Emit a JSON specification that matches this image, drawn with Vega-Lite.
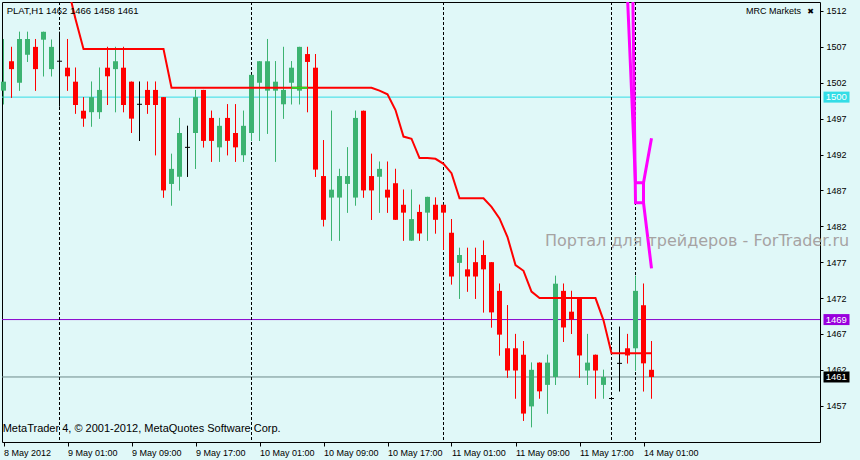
{
"$schema": "https://vega.github.io/schema/vega-lite/v6.json",
"width": 818, "height": 440,
"autosize": {"type": "none"},
"padding": {"left": 2, "top": 2, "right": 40, "bottom": 18},
"background": "#E0F8F8",
"config": {"view": {"stroke": "#000000", "strokeWidth": 1, "fill": "#E0F8F8"}, "font": "Liberation Sans", "axis": {"labelOverlap": false, "labelFlush": false}},
"datasets": {
"candles": [
{"k":0,"o":1500.9,"h":1508.1,"l":1499.0,"c":1502.15,"d":"up"},
{"k":1,"o":1505.0,"h":1507.0,"l":1499.9,"c":1503.9,"d":"down"},
{"k":2,"o":1502.0,"h":1509.1,"l":1500.9,"c":1508.1,"d":"up"},
{"k":3,"o":1505.9,"h":1509.1,"l":1504.9,"c":1508.1,"d":"up"},
{"k":4,"o":1507.0,"h":1508.1,"l":1500.9,"c":1503.9,"d":"down"},
{"k":5,"o":1508.0,"h":1509.1,"l":1502.9,"c":1509.1,"d":"up"},
{"k":6,"o":1503.9,"h":1508.0,"l":1502.9,"c":1507.0,"d":"up"},
{"k":7,"o":1505.0,"h":1509.1,"l":1498.7,"c":1505.0,"d":"doji"},
{"k":8,"o":1504.1,"h":1508.1,"l":1500.9,"c":1502.9,"d":"down"},
{"k":9,"o":1502.15,"h":1504.1,"l":1497.7,"c":1498.9,"d":"down"},
{"k":10,"o":1498.1,"h":1500.0,"l":1495.9,"c":1497.0,"d":"down"},
{"k":11,"o":1497.9,"h":1502.15,"l":1495.9,"c":1500.0,"d":"up"},
{"k":12,"o":1497.9,"h":1504.1,"l":1497.0,"c":1501.0,"d":"up"},
{"k":13,"o":1504.1,"h":1507.0,"l":1498.9,"c":1502.9,"d":"down"},
{"k":14,"o":1503.9,"h":1507.0,"l":1497.9,"c":1505.0,"d":"up"},
{"k":15,"o":1504.1,"h":1507.0,"l":1497.9,"c":1498.9,"d":"down"},
{"k":16,"o":1502.15,"h":1502.15,"l":1495.0,"c":1497.0,"d":"down"},
{"k":17,"o":1499.0,"h":1502.15,"l":1493.9,"c":1499.0,"d":"doji"},
{"k":18,"o":1501.0,"h":1502.15,"l":1497.7,"c":1498.9,"d":"down"},
{"k":19,"o":1501.0,"h":1502.15,"l":1491.9,"c":1498.9,"d":"down"},
{"k":20,"o":1500.0,"h":1500.0,"l":1486.0,"c":1487.0,"d":"down"},
{"k":21,"o":1487.9,"h":1492.1,"l":1484.9,"c":1490.0,"d":"up"},
{"k":22,"o":1488.9,"h":1497.1,"l":1487.0,"c":1495.0,"d":"up"},
{"k":23,"o":1493.0,"h":1496.0,"l":1488.9,"c":1493.0,"d":"doji"},
{"k":24,"o":1495.0,"h":1501.0,"l":1490.0,"c":1500.0,"d":"up"},
{"k":25,"o":1501.0,"h":1501.0,"l":1493.0,"c":1493.9,"d":"down"},
{"k":26,"o":1497.1,"h":1498.1,"l":1491.0,"c":1493.9,"d":"down"},
{"k":27,"o":1493.0,"h":1497.1,"l":1491.0,"c":1496.0,"d":"up"},
{"k":28,"o":1497.1,"h":1499.0,"l":1491.9,"c":1493.9,"d":"down"},
{"k":29,"o":1495.0,"h":1499.0,"l":1491.0,"c":1493.0,"d":"down"},
{"k":30,"o":1491.9,"h":1498.1,"l":1491.0,"c":1496.0,"d":"up"},
{"k":31,"o":1495.0,"h":1503.1,"l":1493.9,"c":1503.1,"d":"up"},
{"k":32,"o":1502.0,"h":1505.0,"l":1493.9,"c":1505.0,"d":"up"},
{"k":33,"o":1500.9,"h":1508.1,"l":1494.9,"c":1505.0,"d":"up"},
{"k":34,"o":1500.9,"h":1505.0,"l":1491.0,"c":1502.15,"d":"up"},
{"k":35,"o":1499.0,"h":1507.0,"l":1497.0,"c":1501.0,"d":"up"},
{"k":36,"o":1502.0,"h":1505.0,"l":1499.0,"c":1504.1,"d":"up"},
{"k":37,"o":1500.9,"h":1507.0,"l":1499.0,"c":1507.0,"d":"up"},
{"k":38,"o":1506.0,"h":1507.0,"l":1497.9,"c":1504.9,"d":"down"},
{"k":39,"o":1504.1,"h":1506.0,"l":1488.9,"c":1489.9,"d":"down"},
{"k":40,"o":1489.0,"h":1494.0,"l":1482.0,"c":1482.9,"d":"down"},
{"k":41,"o":1486.0,"h":1498.1,"l":1480.0,"c":1487.1,"d":"up"},
{"k":42,"o":1486.0,"h":1490.0,"l":1480.0,"c":1489.0,"d":"up"},
{"k":43,"o":1487.9,"h":1493.0,"l":1483.9,"c":1489.0,"d":"up"},
{"k":44,"o":1486.0,"h":1498.1,"l":1484.9,"c":1497.1,"d":"up"},
{"k":45,"o":1498.1,"h":1498.1,"l":1486.0,"c":1487.0,"d":"down"},
{"k":46,"o":1489.0,"h":1492.1,"l":1482.9,"c":1487.0,"d":"down"},
{"k":47,"o":1488.9,"h":1491.0,"l":1483.9,"c":1490.0,"d":"up"},
{"k":48,"o":1487.1,"h":1491.0,"l":1483.9,"c":1486.0,"d":"down"},
{"k":49,"o":1488.0,"h":1490.0,"l":1482.9,"c":1482.9,"d":"down"},
{"k":50,"o":1485.0,"h":1487.1,"l":1480.0,"c":1483.9,"d":"down"},
{"k":51,"o":1480.0,"h":1487.1,"l":1480.0,"c":1483.0,"d":"up"},
{"k":52,"o":1484.0,"h":1485.0,"l":1480.0,"c":1481.0,"d":"down"},
{"k":53,"o":1483.9,"h":1486.1,"l":1480.0,"c":1486.1,"d":"up"},
{"k":54,"o":1485.0,"h":1486.0,"l":1481.0,"c":1482.9,"d":"down"},
{"k":55,"o":1485.0,"h":1485.0,"l":1478.7,"c":1483.9,"d":"down"},
{"k":56,"o":1481.1,"h":1483.0,"l":1473.9,"c":1475.0,"d":"down"},
{"k":57,"o":1476.9,"h":1479.0,"l":1471.9,"c":1478.0,"d":"up"},
{"k":58,"o":1476.0,"h":1479.0,"l":1472.9,"c":1475.0,"d":"down"},
{"k":59,"o":1477.0,"h":1479.0,"l":1471.9,"c":1475.0,"d":"down"},
{"k":60,"o":1478.0,"h":1480.0,"l":1470.0,"c":1476.0,"d":"down"},
{"k":61,"o":1477.0,"h":1477.0,"l":1467.9,"c":1470.0,"d":"down"},
{"k":62,"o":1473.0,"h":1474.0,"l":1464.0,"c":1466.9,"d":"down"},
{"k":63,"o":1465.0,"h":1471.0,"l":1460.9,"c":1461.9,"d":"down"},
{"k":64,"o":1465.0,"h":1467.0,"l":1458.0,"c":1461.9,"d":"down"},
{"k":65,"o":1464.1,"h":1466.0,"l":1454.9,"c":1455.9,"d":"down"},
{"k":66,"o":1456.9,"h":1463.0,"l":1454.0,"c":1462.0,"d":"up"},
{"k":67,"o":1463.0,"h":1463.0,"l":1458.0,"c":1459.0,"d":"down"},
{"k":68,"o":1459.9,"h":1464.1,"l":1455.9,"c":1463.0,"d":"up"},
{"k":69,"o":1461.0,"h":1475.1,"l":1459.9,"c":1474.0,"d":"up"},
{"k":70,"o":1473.0,"h":1474.0,"l":1465.9,"c":1467.9,"d":"down"},
{"k":71,"o":1470.1,"h":1473.0,"l":1467.0,"c":1469.0,"d":"down"},
{"k":72,"o":1472.0,"h":1472.0,"l":1460.9,"c":1464.0,"d":"down"},
{"k":73,"o":1461.9,"h":1467.0,"l":1459.9,"c":1463.0,"d":"up"},
{"k":74,"o":1464.1,"h":1464.1,"l":1458.0,"c":1461.9,"d":"down"},
{"k":75,"o":1459.9,"h":1462.0,"l":1458.0,"c":1461.0,"d":"up"},
{"k":76,"o":1458.0,"h":1458.2,"l":1457.8,"c":1458.0,"d":"doji"},
{"k":77,"o":1462.9,"h":1468.0,"l":1459.0,"c":1462.9,"d":"doji"},
{"k":78,"o":1465.0,"h":1467.0,"l":1462.9,"c":1464.0,"d":"down"},
{"k":79,"o":1465.0,"h":1475.1,"l":1461.9,"c":1473.0,"d":"up"},
{"k":80,"o":1471.0,"h":1474.0,"l":1459.0,"c":1462.9,"d":"down"},
{"k":81,"o":1462.0,"h":1466.0,"l":1458.0,"c":1461.0,"d":"down"}
],
"ind": [
{"k":8,"v":1515.5},{"k":9,"v":1510.9},{"k":10,"v":1506.7},{"k":11,"v":1506.7},{"k":12,"v":1506.7},{"k":13,"v":1506.7},{"k":14,"v":1506.7},{"k":15,"v":1506.7},{"k":16,"v":1506.7},{"k":17,"v":1506.7},{"k":18,"v":1506.7},{"k":19,"v":1506.7},{"k":20,"v":1506.7},
{"k":21,"v":1501.3},{"k":22,"v":1501.3},{"k":23,"v":1501.3},{"k":24,"v":1501.3},{"k":25,"v":1501.3},{"k":26,"v":1501.3},{"k":27,"v":1501.3},{"k":28,"v":1501.3},{"k":29,"v":1501.3},{"k":30,"v":1501.3},{"k":31,"v":1501.3},{"k":32,"v":1501.3},{"k":33,"v":1501.3},{"k":34,"v":1501.3},{"k":35,"v":1501.3},{"k":36,"v":1501.3},{"k":37,"v":1501.3},{"k":38,"v":1501.3},{"k":39,"v":1501.3},{"k":40,"v":1501.3},{"k":41,"v":1501.3},{"k":42,"v":1501.3},{"k":43,"v":1501.3},{"k":44,"v":1501.3},{"k":45,"v":1501.3},{"k":46,"v":1501.3},
{"k":47,"v":1500.9},{"k":48,"v":1500.4},{"k":49,"v":1498.2},{"k":50,"v":1494.5},{"k":51,"v":1494.2},{"k":52,"v":1491.5},{"k":53,"v":1491.5},{"k":54,"v":1491.4},{"k":55,"v":1490.7},{"k":56,"v":1489.4},{"k":57,"v":1485.9},{"k":58,"v":1485.9},{"k":59,"v":1485.9},{"k":60,"v":1485.9},{"k":61,"v":1484.7},{"k":62,"v":1483.1},{"k":63,"v":1480.5},{"k":64,"v":1476.6},{"k":65,"v":1475.8},{"k":66,"v":1472.9},{"k":67,"v":1472.0},{"k":68,"v":1472.0},{"k":69,"v":1472.0},{"k":70,"v":1472.0},{"k":71,"v":1472.0},{"k":72,"v":1472.0},{"k":73,"v":1472.0},{"k":74,"v":1472.0},{"k":75,"v":1468.9},{"k":76,"v":1464.3},{"k":77,"v":1464.3},{"k":78,"v":1464.3},{"k":79,"v":1464.3},{"k":80,"v":1464.3},{"k":81,"v":1464.3}
],
"mag": [
{"s":"A","o":1,"k":78,"v":1513.95},{"s":"A","o":2,"k":79,"v":1488.07},{"s":"A","o":3,"k":80,"v":1488.07},{"s":"A","o":4,"k":81,"v":1494.26},
{"s":"B","o":1,"k":78,"v":1572.0},{"s":"B","o":2,"k":79,"v":1485.28},{"s":"B","o":3,"k":80,"v":1485.28},{"s":"B","o":4,"k":81,"v":1476.14},
{"s":"C","o":1,"k":80,"v":1488.07},{"s":"C","o":2,"k":80,"v":1485.28}
],
"seps": [{"k":7},{"k":31},{"k":55},{"k":76},{"k":79}],
"levels": [
{"p":1500,"line":"res","box":"res","lab":"1500"},
{"p":1469,"line":"alert","box":"alertbox","lab":"1469"},
{"p":1461,"line":"bid","box":"bidbox","lab":"1461"}
]
},
"layer": [
{
"data": {"name": "candles"},
"mark": {"type": "rule", "strokeWidth": 1},
"encoding": {
"x": {"field": "k", "type": "quantitative", "title": null, "scale": {"type": "linear", "domain": [-0.1875, 102.0625], "nice": false, "zero": false, "padding": 0},
  "axis": {"values": [0,8,16,24,32,40,48,56,64,72,80], "tickCount": 30, "labelExpr": "['8 May 2012','9 May 01:00','9 May 09:00','9 May 17:00','10 May 01:00','10 May 09:00','10 May 17:00','11 May 01:00','11 May 09:00','11 May 17:00','14 May 01:00'][round(datum.value/8)]", "title": null, "grid": false, "domain": false, "ticks": true, "tickSize": 4, "tickColor": "#000000", "labelAlign": "left", "labelBaseline": "top", "labelPadding": 2, "labelFontSize": 9, "labelColor": "#000000", "labelFont": "Liberation Sans", "labelFlush": false, "labelOverlap": false, "labelDx": 1}},
"y": {"field": "l", "type": "quantitative", "title": null, "scale": {"type": "linear", "domain": [1451.94, 1513.254], "nice": false, "zero": false, "padding": 0},
  "axis": {"orient": "right", "values": [1457,1462,1467,1472,1477,1482,1487,1492,1497,1502,1507,1512], "tickCount": 30, "format": "d", "title": null, "grid": false, "domain": false, "ticks": true, "tickSize": 3, "tickColor": "#000000", "labelPadding": 3, "labelFontSize": 9, "labelColor": "#000000", "labelFont": "Liberation Sans", "labelAlign": "left", "labelBaseline": "middle", "labelFlush": false, "labelOverlap": false}},
"y2": {"field": "h"},
"color": {"field": "d", "type": "nominal", "scale": {"domain": ["up","down","doji","res","alert","alertbox","bid","bidbox"], "range": ["#3CB371","#FF0000","#000000","#33DDE6","#8800CC","#9900DD","#6E8A8A","#000000"]}, "legend": null}
}
},
{
"data": {"name": "levels"},
"mark": {"type": "rule", "strokeWidth": 1},
"encoding": {
"y": {"field": "p", "type": "quantitative", "title": null, "scale": {"type": "linear", "domain": [1451.94, 1513.254], "nice": false, "zero": false, "padding": 0}},
"color": {"field": "line", "type": "nominal", "scale": {"domain": ["up","down","doji","res","alert","alertbox","bid","bidbox"], "range": ["#3CB371","#FF0000","#000000","#33DDE6","#8800CC","#9900DD","#6E8A8A","#000000"]}, "legend": null}
}
},
{
"data": {"name": "seps"},
"mark": {"type": "rule", "strokeWidth": 1, "strokeDash": [3, 2], "color": "#000000"},
"encoding": {
"x": {"field": "k", "type": "quantitative", "title": null, "scale": {"type": "linear", "domain": [-0.1875, 102.0625], "nice": false, "zero": false, "padding": 0}}
}
},
{
"data": {"name": "candles"},
"mark": {"type": "rule", "strokeWidth": 1},
"encoding": {
"x": {"field": "k", "type": "quantitative", "title": null, "scale": {"type": "linear", "domain": [-0.1875, 102.0625], "nice": false, "zero": false, "padding": 0}},
"y": {"field": "l", "type": "quantitative", "title": null, "scale": {"type": "linear", "domain": [1451.94, 1513.254], "nice": false, "zero": false, "padding": 0}},
"y2": {"field": "h"},
"color": {"field": "d", "type": "nominal", "scale": {"domain": ["up","down","doji","res","alert","alertbox","bid","bidbox"], "range": ["#3CB371","#FF0000","#000000","#33DDE6","#8800CC","#9900DD","#6E8A8A","#000000"]}, "legend": null}
}
},
{
"data": {"name": "candles"},
"transform": [{"filter": "datum.d != 'doji'"}],
"mark": {"type": "bar", "size": 5},
"encoding": {
"x": {"field": "k", "type": "quantitative", "title": null, "scale": {"type": "linear", "domain": [-0.1875, 102.0625], "nice": false, "zero": false, "padding": 0}},
"y": {"field": "o", "type": "quantitative", "title": null, "scale": {"type": "linear", "domain": [1451.94, 1513.254], "nice": false, "zero": false, "padding": 0}},
"y2": {"field": "c"},
"color": {"field": "d", "type": "nominal", "scale": {"domain": ["up","down","doji","res","alert","alertbox","bid","bidbox"], "range": ["#3CB371","#FF0000","#000000","#33DDE6","#8800CC","#9900DD","#6E8A8A","#000000"]}, "legend": null}
}
},
{
"data": {"name": "candles"},
"transform": [{"filter": "datum.d == 'doji'"}],
"mark": {"type": "point", "shape": "M-1,0L1,0", "size": 25, "filled": false, "strokeWidth": 1, "color": "#000000", "opacity": 1},
"encoding": {
"x": {"field": "k", "type": "quantitative", "title": null, "scale": {"type": "linear", "domain": [-0.1875, 102.0625], "nice": false, "zero": false, "padding": 0}},
"y": {"field": "o", "type": "quantitative", "title": null, "scale": {"type": "linear", "domain": [1451.94, 1513.254], "nice": false, "zero": false, "padding": 0}}
}
},
{
"data": {"name": "ind"},
"mark": {"type": "line", "strokeWidth": 2, "color": "#FF0000", "clip": true},
"encoding": {
"x": {"field": "k", "type": "quantitative", "title": null, "scale": {"type": "linear", "domain": [-0.1875, 102.0625], "nice": false, "zero": false, "padding": 0}},
"y": {"field": "v", "type": "quantitative", "title": null, "scale": {"type": "linear", "domain": [1451.94, 1513.254], "nice": false, "zero": false, "padding": 0}}
}
},
{
"data": {"name": "ind"},
"transform": [{"filter": {"field": "k", "range": [36, 38]}}],
"mark": {"type": "line", "strokeWidth": 2, "color": "#22DD22", "clip": true},
"encoding": {
"x": {"field": "k", "type": "quantitative", "title": null, "scale": {"type": "linear", "domain": [-0.1875, 102.0625], "nice": false, "zero": false, "padding": 0}},
"y": {"field": "v", "type": "quantitative", "title": null, "scale": {"type": "linear", "domain": [1451.94, 1513.254], "nice": false, "zero": false, "padding": 0}}
}
},
{
"data": {"name": "mag"},
"mark": {"type": "line", "strokeWidth": 3, "color": "#FF00FF", "clip": true},
"encoding": {
"x": {"field": "k", "type": "quantitative", "title": null, "scale": {"type": "linear", "domain": [-0.1875, 102.0625], "nice": false, "zero": false, "padding": 0}},
"y": {"field": "v", "type": "quantitative", "title": null, "scale": {"type": "linear", "domain": [1451.94, 1513.254], "nice": false, "zero": false, "padding": 0}},
"detail": {"field": "s", "type": "nominal"},
"order": {"field": "o", "type": "quantitative"}
}
},
{
"data": {"name": "levels"},
"mark": {"type": "bar", "orient": "horizontal", "size": 11, "clip": false},
"encoding": {
"x": {"datum": 102.5, "type": "quantitative", "title": null, "scale": {"type": "linear", "domain": [-0.1875, 102.0625], "nice": false, "zero": false, "padding": 0}},
"x2": {"datum": 105.75},
"y": {"field": "p", "type": "quantitative", "title": null, "scale": {"type": "linear", "domain": [1451.94, 1513.254], "nice": false, "zero": false, "padding": 0}},
"color": {"field": "box", "type": "nominal", "scale": {"domain": ["up","down","doji","res","alert","alertbox","bid","bidbox"], "range": ["#3CB371","#FF0000","#000000","#33DDE6","#8800CC","#9900DD","#6E8A8A","#000000"]}, "legend": null}
}
},
{
"data": {"name": "levels"},
"mark": {"type": "text", "fontSize": 9.5, "color": "#FFFFFF", "align": "center", "baseline": "middle", "clip": false, "font": "Liberation Sans"},
"encoding": {
"x": {"datum": 104.1, "type": "quantitative", "title": null, "scale": {"type": "linear", "domain": [-0.1875, 102.0625], "nice": false, "zero": false, "padding": 0}},
"y": {"field": "p", "type": "quantitative", "title": null, "scale": {"type": "linear", "domain": [1451.94, 1513.254], "nice": false, "zero": false, "padding": 0}},
"text": {"field": "lab"}
}
},
{
"data": {"values": [{"t": "PLAT,H1  1462 1466 1458 1461"}]},
"mark": {"type": "text", "fontSize": 9.5, "color": "#000000", "align": "left", "baseline": "middle", "font": "Liberation Sans"},
"encoding": {
"x": {"datum": 0.4, "type": "quantitative", "title": null, "scale": {"type": "linear", "domain": [-0.1875, 102.0625], "nice": false, "zero": false, "padding": 0}},
"y": {"datum": 1512.03, "type": "quantitative", "title": null, "scale": {"type": "linear", "domain": [1451.94, 1513.254], "nice": false, "zero": false, "padding": 0}},
"text": {"field": "t"}
}
},
{
"data": {"values": [{"t": "MRC Markets"}]},
"mark": {"type": "text", "fontSize": 9, "color": "#000000", "align": "right", "baseline": "middle", "font": "Liberation Sans"},
"encoding": {
"x": {"datum": 99.7, "type": "quantitative", "title": null, "scale": {"type": "linear", "domain": [-0.1875, 102.0625], "nice": false, "zero": false, "padding": 0}},
"y": {"datum": 1512.0, "type": "quantitative", "title": null, "scale": {"type": "linear", "domain": [1451.94, 1513.254], "nice": false, "zero": false, "padding": 0}},
"text": {"field": "t"}
}
},
{
"data": {"values": [{"t": "✖"}]},
"mark": {"type": "text", "fontSize": 8, "color": "#000000", "align": "center", "baseline": "middle", "font": "DejaVu Sans"},
"encoding": {
"x": {"datum": 100.9, "type": "quantitative", "title": null, "scale": {"type": "linear", "domain": [-0.1875, 102.0625], "nice": false, "zero": false, "padding": 0}},
"y": {"datum": 1511.9, "type": "quantitative", "title": null, "scale": {"type": "linear", "domain": [1451.94, 1513.254], "nice": false, "zero": false, "padding": 0}},
"text": {"field": "t"}
}
},
{
"data": {"values": [{"t": "MetaTrader 4, © 2001-2012, MetaQuotes Software Corp."}]},
"mark": {"type": "text", "fontSize": 11, "color": "#000000", "align": "left", "baseline": "middle", "font": "Liberation Sans"},
"encoding": {
"x": {"datum": -0.1, "type": "quantitative", "title": null, "scale": {"type": "linear", "domain": [-0.1875, 102.0625], "nice": false, "zero": false, "padding": 0}},
"y": {"datum": 1453.8, "type": "quantitative", "title": null, "scale": {"type": "linear", "domain": [1451.94, 1513.254], "nice": false, "zero": false, "padding": 0}},
"text": {"field": "t"}
}
},
{
"data": {"values": [{"t": "Портал для трейдеров - ForTrader.ru"}]},
"mark": {"type": "text", "fontSize": 16, "color": "#A09A9A", "opacity": 0.9, "align": "left", "baseline": "middle", "font": "DejaVu Sans", "clip": false},
"encoding": {
"x": {"datum": 67.69, "type": "quantitative", "title": null, "scale": {"type": "linear", "domain": [-0.1875, 102.0625], "nice": false, "zero": false, "padding": 0}},
"y": {"datum": 1480.0, "type": "quantitative", "title": null, "scale": {"type": "linear", "domain": [1451.94, 1513.254], "nice": false, "zero": false, "padding": 0}},
"text": {"field": "t"}
}
}
]
}
